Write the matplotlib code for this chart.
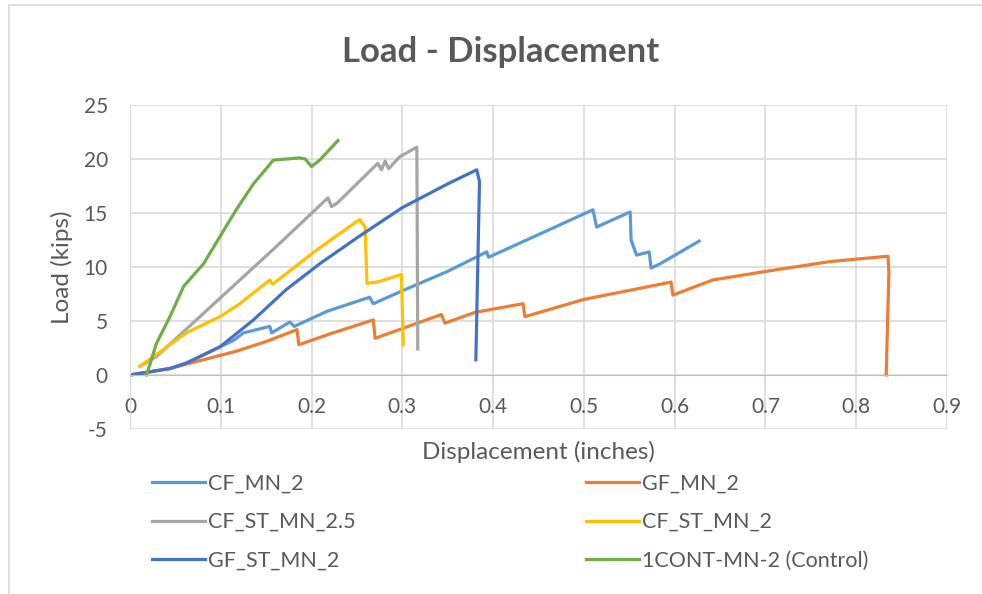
import matplotlib
matplotlib.use('Agg')
from matplotlib import pyplot as plt
from matplotlib.patches import Rectangle

plt.rcParams['font.family'] = ['Lato', 'DejaVu Sans']
plt.rcParams['axes.unicode_minus'] = False

# series data (displacement in, load kips)
cf_mn_2_x = [0, 0.044, 0.062, 0.099, 0.114, 0.125, 0.154, 0.156, 0.176, 0.181, 0.217, 0.264,
             0.268, 0.30, 0.35, 0.393, 0.395, 0.45, 0.51, 0.514, 0.551, 0.552, 0.558, 0.572,
             0.574, 0.584, 0.627]
cf_mn_2_y = [0, 0.6, 1.1, 2.6, 3.2, 3.9, 4.5, 3.9, 4.9, 4.5, 5.9, 7.2,
             6.6, 7.8, 9.6, 11.4, 10.9, 13.0, 15.3, 13.7, 15.1, 12.5, 11.1, 11.4,
             9.9, 10.3, 12.4]

gf_mn_2_x = [0, 0.044, 0.062, 0.117, 0.15, 0.184, 0.186, 0.22, 0.268, 0.270, 0.30, 0.343,
             0.347, 0.38, 0.433, 0.435, 0.50, 0.596, 0.598, 0.642, 0.701, 0.771, 0.835,
             0.836, 0.833]
gf_mn_2_y = [0, 0.6, 1.0, 2.2, 3.1, 4.2, 2.8, 3.8, 5.1, 3.4, 4.3, 5.6,
             4.8, 5.8, 6.6, 5.4, 7.0, 8.6, 7.4, 8.8, 9.6, 10.5, 11.0,
             9.5, 0]

cf_st_mn_25_x = [0.011, 0.029, 0.099, 0.16, 0.218, 0.222, 0.228, 0.273, 0.277, 0.281, 0.285,
                 0.297, 0.316, 0.317]
cf_st_mn_25_y = [0.8, 1.7, 7.1, 11.8, 16.4, 15.6, 15.9, 19.6, 19.0, 19.8, 19.1,
                 20.2, 21.1, 2.4]

cf_st_mn_2_x = [0.011, 0.062, 0.099, 0.121, 0.154, 0.157, 0.206, 0.253, 0.259, 0.261, 0.272,
                0.299, 0.301]
cf_st_mn_2_y = [0.8, 3.9, 5.4, 6.6, 8.8, 8.4, 11.6, 14.4, 13.7, 8.5, 8.6,
                9.3, 2.8]

gf_st_mn_2_x = [0, 0.044, 0.062, 0.099, 0.136, 0.172, 0.209, 0.25, 0.30, 0.35, 0.382, 0.385, 0.381]
gf_st_mn_2_y = [0, 0.6, 1.1, 2.6, 5.1, 7.9, 10.3, 12.7, 15.5, 17.7, 19.0, 17.9, 1.4]

control_x = [0.018, 0.022, 0.029, 0.044, 0.059, 0.081, 0.099, 0.117, 0.136, 0.158, 0.187,
             0.193, 0.200, 0.209, 0.229]
control_y = [0.0, 1.0, 2.9, 5.4, 8.2, 10.3, 12.8, 15.3, 17.7, 19.9, 20.1,
             20.0, 19.3, 19.9, 21.7]

txt = '#595959'
grid = '#D9D9D9'

fig = plt.figure(figsize=(9.82, 5.94), dpi=100)
fig.patches.append(Rectangle((9/982, -0.1), 1.2, (594-5)/594 + 0.1, transform=fig.transFigure,
                             fill=False, edgecolor=grid, linewidth=1.2))
ax = fig.add_axes([130/982, 1-429/594, 817/982, 324/594])

lw = 2.3
l1, = ax.plot(cf_mn_2_x, cf_mn_2_y, color='#5B9BD5', lw=lw, label='CF_MN_2')
l2, = ax.plot(gf_mn_2_x, gf_mn_2_y, color='#ED7D31', lw=lw, label='GF_MN_2')
l3, = ax.plot(cf_st_mn_25_x, cf_st_mn_25_y, color='#A5A5A5', lw=lw, label='CF_ST_MN_2.5')
l4, = ax.plot(cf_st_mn_2_x, cf_st_mn_2_y, color='#FFC000', lw=lw, label='CF_ST_MN_2')
l5, = ax.plot(gf_st_mn_2_x, gf_st_mn_2_y, color='#4472C4', lw=lw, label='GF_ST_MN_2')
l6, = ax.plot(control_x, control_y, color='#70AD47', lw=lw, label='1CONT-MN-2 (Control)')

ax.set_xlim(0, 0.9)
ax.set_ylim(-5, 25)
ax.set_xticks([i/10 for i in range(10)])
ax.set_xticklabels(['0'] + ['0.%d' % i for i in range(1, 10)])
ax.set_yticks(range(-5, 30, 5))
ax.grid(True, color=grid, lw=1.2)
ax.set_axisbelow(True)
for s in ['top', 'right']:
    ax.spines[s].set_visible(False)
ax.spines['bottom'].set_position(('data', 0))
ax.spines['bottom'].set_color('#BFBFBF')
ax.spines['left'].set_color(grid)
ax.tick_params(length=0, labelsize=15, colors=txt)
ax.tick_params(axis='y', pad=16)
ax.tick_params(axis='x', pad=16)

ax.set_xlabel('Displacement (inches)', fontsize=17.5, color=txt)
ax.xaxis.set_label_coords(0.5, -0.038)
ax.set_ylabel('Load (kips)', fontsize=17.5, color=txt)
ax.yaxis.set_label_coords(-0.0698, 0.5)

fig.text(0.51, 1-52/594, 'Load - Displacement', ha='center', va='center',
         fontsize=25, fontweight='bold', color=txt)

leg = fig.legend([l1, l3, l5, l2, l4, l6],
                 [l.get_label() for l in [l1, l3, l5, l2, l4, l6]],
                 ncol=2, loc='upper left', bbox_to_anchor=(133/982, 1-454/594),
                 frameon=False, fontsize=15.5, handlelength=2.45, handletextpad=0.15,
                 labelspacing=0.87, columnspacing=10.7)
for t in leg.get_texts():
    t.set_color(txt)

fig.savefig('out.png', dpi=100)
